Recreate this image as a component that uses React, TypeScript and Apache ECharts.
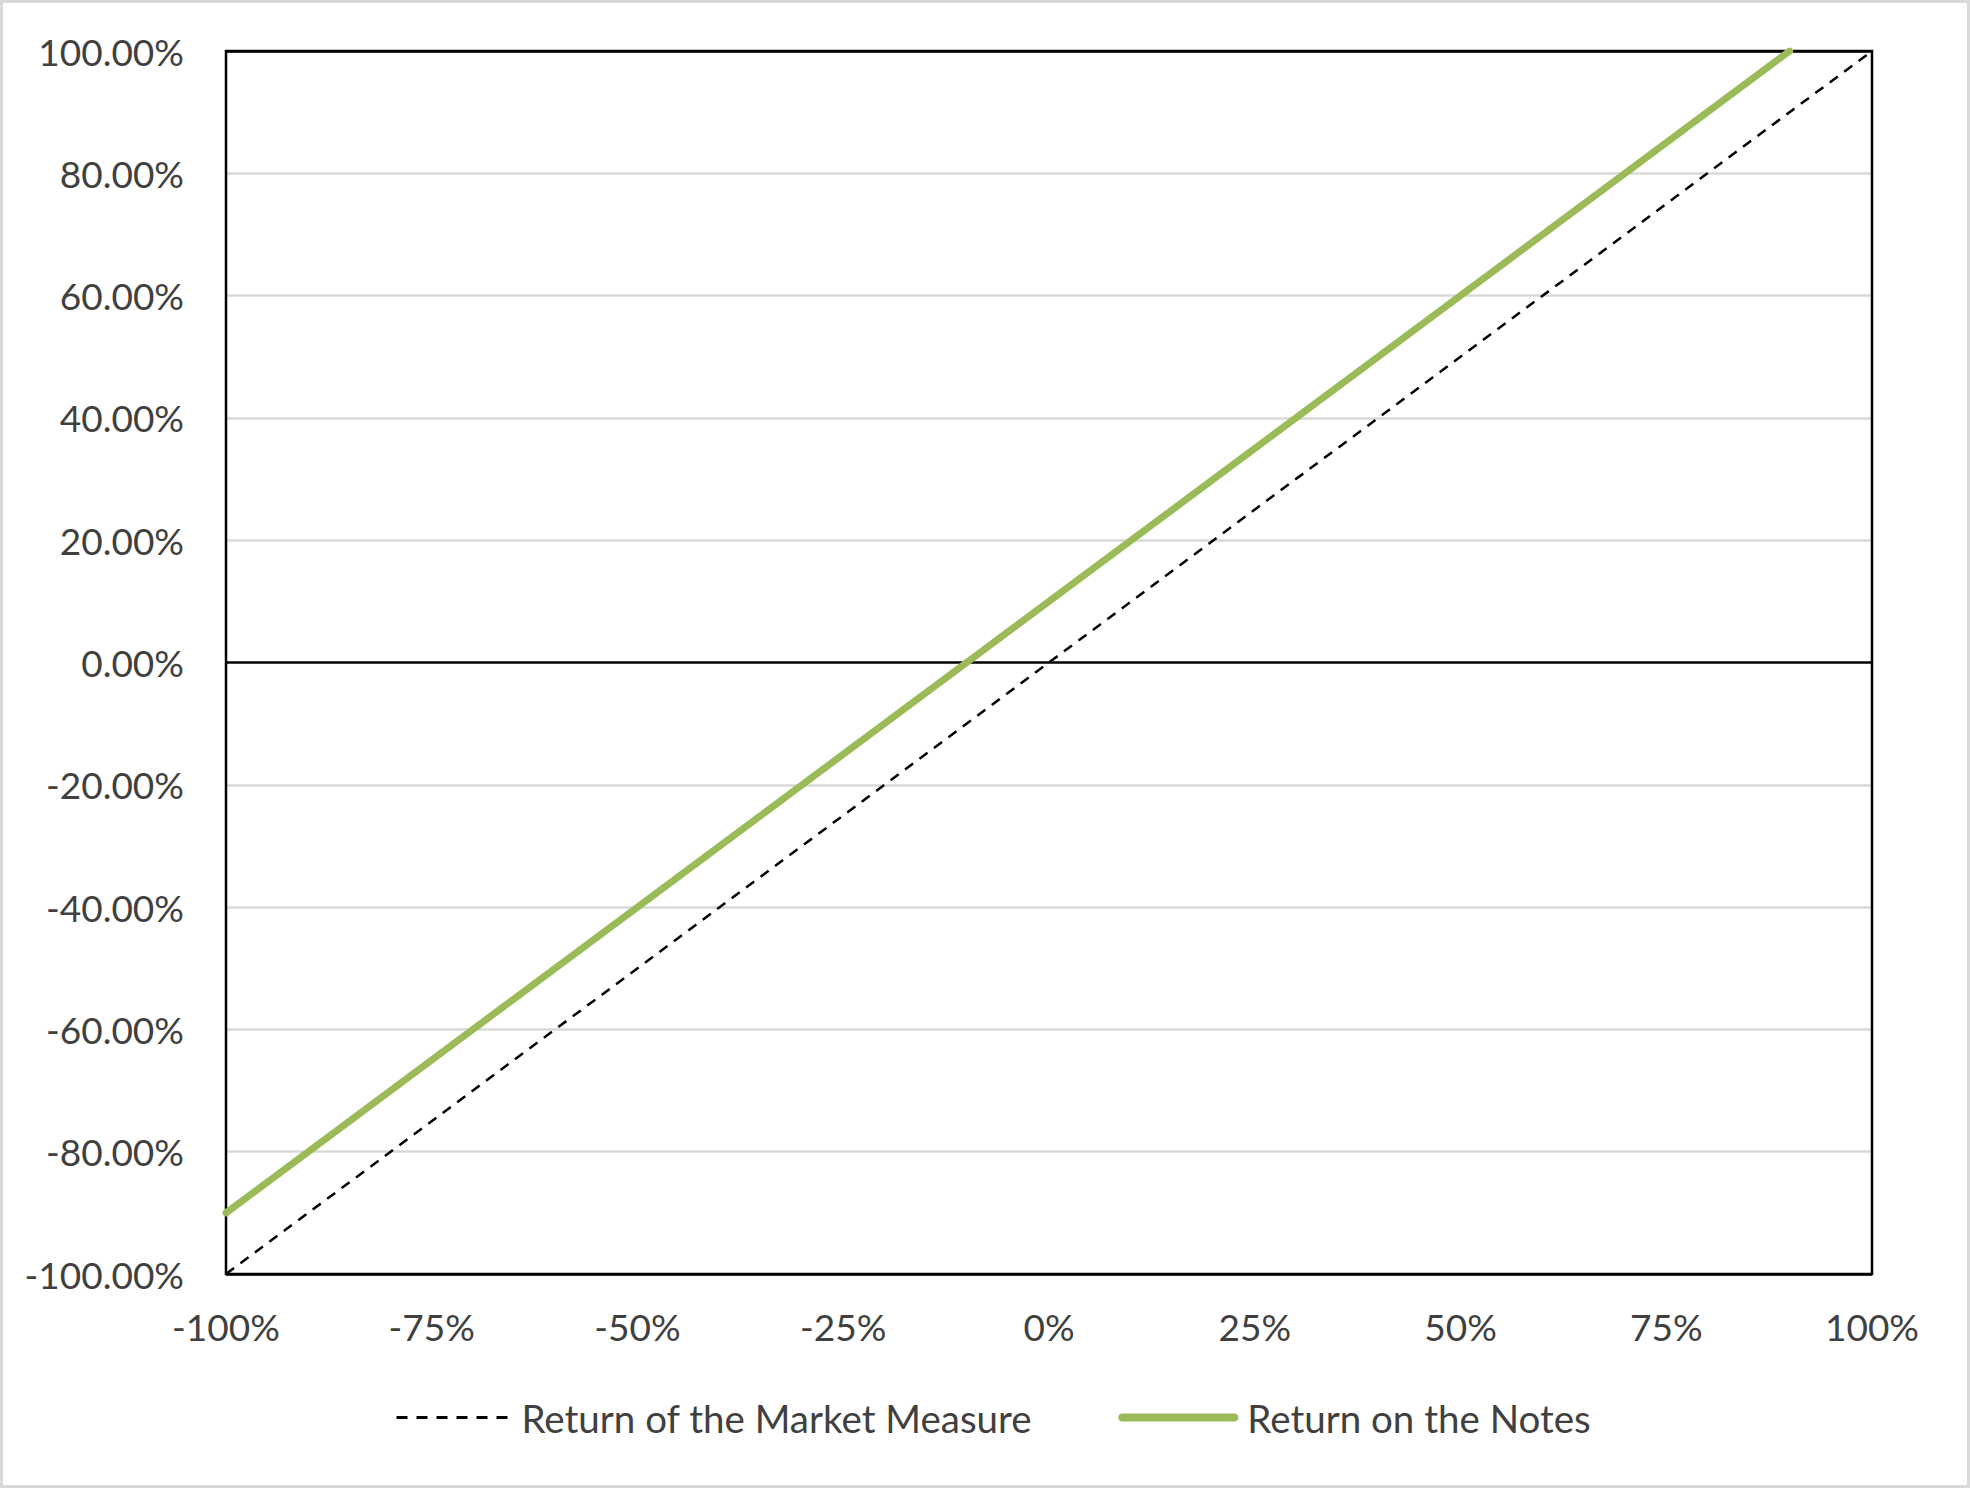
import React, { useEffect, useRef } from "react";
import * as echarts from "echarts";

const marketX = [-100, 100];
const marketY = [-100, 100];
const notesX = [-100, 90];
const notesY = [-90, 100];
const xTicks = { min: -100, max: 100, interval: 25 };
const yTicks = { min: -100, max: 100, interval: 20 };
const seriesNames = ["Return of the Market Measure", "Return on the Notes"];

const FONT = "Lato";
const TEXT = "#404040";
const GREEN = "#9BBB59";

export default function App() {
  const ref = useRef<HTMLDivElement>(null);
  useEffect(() => {
    document.body.style.margin = "0";
    const chart = echarts.init(ref.current!, undefined, { renderer: "svg" });
    const splitColors = [];
    for (let i = 0; i <= 10; i++) {
      splitColors.push(i === 0 || i === 10 || i === 5 ? "#000000" : "#D9D9D9");
    }
    chart.setOption({
      animation: false,
      backgroundColor: "#ffffff",
      textStyle: { fontFamily: FONT },
      grid: {
        left: 226,
        right: 98,
        top: 51,
        bottom: 214,
        show: true,
        borderColor: "#000000",
        borderWidth: 2.5,
        z: 3,
      },
      graphic: [
        {
          type: "rect",
          shape: { x: 1.5, y: 1.5, width: 1967, height: 1485 },
          style: { fill: "none", stroke: "#D9D9D9", lineWidth: 3 },
          silent: true,
        },
      ],
      xAxis: {
        type: "value",
        min: xTicks.min,
        max: xTicks.max,
        interval: xTicks.interval,
        axisLine: { show: false },
        axisTick: { show: false },
        splitLine: { show: false },
        axisLabel: {
          color: TEXT,
          fontSize: 37,
          fontFamily: FONT,
          margin: 34,
          formatter: (v: number) => `${v}%`,
        },
      },
      yAxis: {
        type: "value",
        min: yTicks.min,
        max: yTicks.max,
        interval: yTicks.interval,
        axisLine: { show: false },
        axisTick: { show: false },
        splitLine: { show: true, lineStyle: { color: splitColors, width: 2.5 } },
        axisLabel: {
          color: TEXT,
          fontSize: 37,
          fontFamily: FONT,
          margin: 42,
          formatter: (v: number) => `${v.toFixed(2)}%`,
        },
      },
      legend: {
        left: 390,
        top: 1393,
        itemWidth: 112,
        itemHeight: 14,
        itemGap: 86,
        itemStyle: { opacity: 0 },
        textStyle: { color: TEXT, fontSize: 38.5, fontFamily: FONT, padding: [0, 0, 0, 8] },
        data: [
          {
            name: seriesNames[0],
            itemStyle: { opacity: 0 },
            lineStyle: { color: "#000000", width: 3, type: [11, 9] },
          },
          {
            name: seriesNames[1],
            itemStyle: { opacity: 0 },
            lineStyle: { color: GREEN, width: 8, cap: "round" },
          },
        ],
      },
      series: [
        {
          name: seriesNames[0],
          type: "line",
          symbol: "none",
          data: marketX.map((x, i) => [x, marketY[i]]),
          lineStyle: { color: "#000000", width: 2.5, type: [10, 8] },
          itemStyle: { color: "#000000" },
          z: 4,
        },
        {
          name: seriesNames[1],
          type: "line",
          symbol: "none",
          data: notesX.map((x, i) => [x, notesY[i]]),
          lineStyle: { color: GREEN, width: 7, cap: "round" },
          itemStyle: { color: GREEN },
          z: 5,
        },
      ],
    });
    return () => chart.dispose();
  }, []);
  return <div ref={ref} style={{ width: 1970, height: 1488 }} />;
}
